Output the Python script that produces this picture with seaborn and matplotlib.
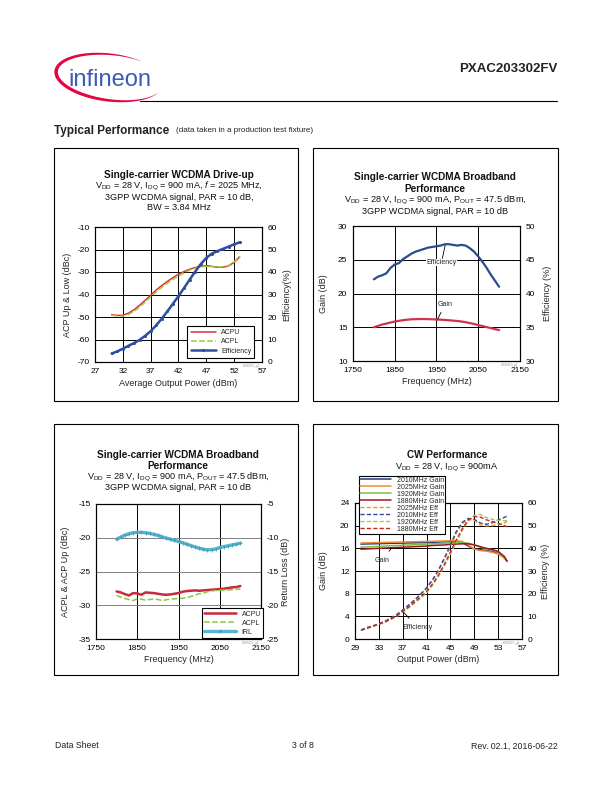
import numpy as np
import matplotlib
matplotlib.use("Agg")
import matplotlib.pyplot as plt
import seaborn as sns
from matplotlib.patches import Rectangle

# --- Drive-up, f = 2025 MHz
pout_drive = [30, 31, 32, 33, 34, 35, 36, 37, 38, 39, 40, 41, 42, 43, 44, 45, 46, 47, 48, 49, 50, 51, 52, 53]
acpu_drive = [-49.0, -49.3, -49.2, -48.3, -46.8, -44.8, -42.6, -40.3, -38.0, -36.0, -34.2, -32.5,
              -31.0, -29.8, -28.8, -28.0, -27.5, -27.2, -27.5, -27.9, -27.9, -27.3, -25.7, -23.3]
acpl_drive = [-49.2, -49.6, -49.6, -48.9, -47.5, -45.6, -43.4, -41.1, -38.8, -36.8, -35.0, -33.3,
              -31.8, -30.4, -29.2, -28.3, -27.7, -27.5, -27.6, -27.8, -27.7, -27.1, -25.4, -23.1]
eff_drive = [3.8, 4.7, 5.9, 7.2, 8.4, 9.8, 11.6, 13.7, 16.3, 19.3, 22.5, 25.9,
             29.3, 32.9, 36.6, 40.2, 43.5, 46.3, 48.2, 49.3, 50.3, 51.3, 52.3, 53.2]

# --- Broadband, Pout = 47.5 dBm
freq_bb = [1800, 1810, 1820, 1830, 1840, 1850, 1860, 1870, 1880, 1890, 1900, 1910, 1920, 1930, 1940, 1950,
           1960, 1970, 1980, 1990, 2000, 2010, 2020, 2030, 2040, 2050, 2060, 2070, 2080, 2090, 2100]
gain_bb = [15.0, 15.2, 15.4, 15.55, 15.7, 15.85, 15.95, 16.05, 16.12, 16.18, 16.2, 16.22, 16.22, 16.2, 16.18, 16.15,
           16.12, 16.08, 16.03, 15.98, 15.92, 15.85, 15.75, 15.62, 15.48, 15.32, 15.18, 15.02, 14.88, 14.72, 14.58]
eff_bb = [42.1, 42.5, 42.7, 43.0, 43.8, 44.3, 44.5, 45.1, 45.5, 45.9, 46.2, 46.4, 46.6, 46.8, 46.9, 47.0,
          47.1, 47.3, 47.3, 47.2, 47.1, 47.2, 47.1, 46.7, 46.2, 45.5, 44.7, 43.8, 42.8, 41.9, 41.0]
acpu_bb = [-27.95, -28.1, -28.35, -28.55, -28.2, -28.25, -28.45, -28.1, -28.15, -28.2, -28.3, -28.4, -28.45, -28.4, -28.3, -28.2,
           -28.0, -27.9, -27.85, -27.8, -27.85, -27.8, -27.75, -27.7, -27.65, -27.6, -27.55, -27.45, -27.35, -27.3, -27.15]
acpl_bb = [-28.55, -28.8, -29.0, -29.15, -29.3, -29.05, -29.1, -29.25, -29.15, -29.1, -29.15, -29.3, -29.2, -29.1, -29.05, -29.0,
           -28.95, -28.85, -28.7, -28.5, -28.3, -28.2, -28.0, -27.9, -27.8, -27.8, -27.75, -27.75, -27.7, -27.65, -27.55]
irl_bb = [-10.2, -9.9, -9.6, -9.4, -9.25, -9.2, -9.2, -9.25, -9.35, -9.5, -9.65, -9.85, -10.05, -10.2, -10.4, -10.55,
          -10.75, -10.95, -11.15, -11.35, -11.55, -11.7, -11.8, -11.75, -11.65, -11.45, -11.3, -11.2, -11.05, -10.95, -10.8]

# --- CW performance
pout_cw = [30, 31, 32, 33, 34, 35, 36, 37, 38, 39, 40, 41, 42, 43, 44, 45, 46, 47, 48, 49, 50, 51, 52, 53, 54, 54.5]
gain_2010 = [16.75, 16.78, 16.8, 16.83, 16.85, 16.88, 16.9, 16.93, 16.95, 16.98, 17.0, 17.03, 17.05,
             17.1, 17.15, 17.2, 17.2, 17.0, 16.4, 15.9, 15.75, 15.65, 15.45, 15.1, 14.4, 13.7]
gain_2025 = [16.95, 16.97, 17.0, 17.02, 17.05, 17.07, 17.1, 17.12, 17.15, 17.17, 17.2, 17.22, 17.25,
             17.28, 17.3, 17.33, 17.35, 17.2, 16.6, 15.85, 15.6, 15.5, 15.3, 15.0, 14.3, 13.7]
gain_1920 = [16.2, 16.25, 16.3, 16.35, 16.4, 16.45, 16.5, 16.55, 16.6, 16.65, 16.7, 16.75, 16.8,
             16.85, 16.9, 16.95, 17.0, 17.0, 16.9, 16.6, 16.2, 15.95, 15.7, 15.35, 14.5, 13.75]
gain_1880 = [15.85, 15.9, 15.95, 16.0, 16.05, 16.1, 16.15, 16.2, 16.25, 16.3, 16.35, 16.4, 16.5,
             16.55, 16.6, 16.7, 16.75, 16.8, 16.8, 16.6, 16.3, 16.0, 15.8, 15.45, 14.6, 13.75]
eff_2025 = [4.0, 5.0, 5.8, 6.7, 7.8, 9.1, 10.7, 12.6, 14.7, 17.0, 19.5, 22.3, 25.8,
            30.0, 35.2, 40.8, 46.8, 51.0, 52.8, 52.3, 50.4, 49.9, 50.0, 50.5, 51.2, 51.8]
eff_2010 = [4.0, 5.0, 5.8, 6.7, 7.8, 9.2, 10.8, 12.8, 15.0, 17.3, 19.8, 22.6, 26.2,
            30.5, 35.8, 41.5, 47.5, 51.5, 53.2, 52.8, 51.2, 50.6, 51.3, 52.5, 53.6, 54.2]
eff_1920 = [3.8, 4.7, 5.5, 6.4, 7.4, 8.6, 10.0, 11.9, 13.8, 15.9, 18.0, 20.4, 23.6,
            27.6, 32.2, 37.4, 42.6, 47.8, 52.2, 54.6, 55.0, 53.6, 52.8, 52.3, 52.2, 52.2]
eff_1880 = [3.8, 4.7, 5.6, 6.5, 7.5, 8.8, 10.2, 12.1, 14.1, 16.3, 18.5, 21.0, 24.3,
            28.3, 33.0, 38.4, 43.7, 48.8, 52.5, 54.0, 53.8, 52.6, 51.8, 51.0, 50.0, 49.5]

W, H = 612, 792
sns.set_theme(style="white")
plt.rcParams["font.family"] = ["Liberation Sans", "DejaVu Sans"]
plt.rcParams["mathtext.fontset"] = "custom"
plt.rcParams["mathtext.rm"] = "Liberation Sans"
plt.rcParams["mathtext.it"] = "Liberation Sans:italic"
plt.rcParams["axes.unicode_minus"] = False

fig = plt.figure(figsize=(6.12, 7.92), dpi=100)
fig.patch.set_facecolor("white")

# page layer in pixel coordinates
page = fig.add_axes([0, 0, 1, 1])
page.set_xlim(0, W)
page.set_ylim(H, 0)
page.axis("off")


def rect(l, t, r, b):
    return [l / W, 1 - b / H, (r - l) / W, (b - t) / H]


# logo
red, blue = "#e3063f", "#3b5cb3"
t = np.radians(np.linspace(58, 336, 200))
s = (t - t[0]) / (t[-1] - t[0])
w = 3.4 * np.sin(np.pi * s) ** 0.9 + 0.2
rot = np.radians(-7)


def ell(a, b):
    x, y = a * np.cos(t), b * np.sin(t)
    return 109 + x * np.cos(rot) - y * np.sin(rot), 77.5 - (x * np.sin(rot) + y * np.cos(rot))


xo, yo = ell(55, 24)
xi, yi = ell(55 - w, 24 - w)
page.fill(np.r_[xo, xi[::-1]], np.r_[yo, yi[::-1]], color=red, lw=0)
page.text(68, 86, "infineon", fontsize=17, color=blue, ha="left", va="baseline")

page.text(557, 69, "PXAC203302FV", fontsize=9.5, fontweight="bold", ha="right", va="center", color="#222222")
page.plot([140, 557], [101, 101], color="black", lw=0.8)
page.text(54, 131, "Typical Performance", fontsize=8.5, fontweight="bold", ha="left", va="center", color="#222222")
page.text(176, 131, "(data taken in a production test fixture)", fontsize=5.8, ha="left", va="center", color="#222222")

for (l, tp, r, b) in [(54, 148, 298, 401), (313, 148, 558, 401), (54, 424, 298, 675), (313, 424, 558, 675)]:
    page.add_patch(Rectangle((l, tp), r - l, b - tp, fill=False, ec="black", lw=0.8))

page.text(55, 746, "Data Sheet", fontsize=6.3, ha="left", va="center", color="#222222")
page.text(303, 746, "3 of 8", fontsize=6.3, ha="center", va="center", color="#222222")
page.text(558, 746, "Rev. 02.1, 2016-06-22", fontsize=6.3, ha="right", va="center", color="#222222")

TFS, SFS, LFS, TKS = 7.2, 6.6, 6.5, 6.0


def titles(cx, lines):
    for y, txt in lines:
        bold = txt.startswith(("Single", "Perf", "CW"))
        page.text(cx, y, txt, fontsize=TFS if bold else SFS, fontweight="bold" if bold else "normal",
                  ha="center", va="center", color="#111111")


def labels(xl, xy, yl, yx, rl, rx, cy, xc):
    page.text(xc, xy, xl, fontsize=LFS, ha="center", va="center")
    page.text(yx, cy, yl, fontsize=LFS, ha="center", va="center", rotation=90)
    page.text(rx, cy, rl, fontsize=LFS, ha="center", va="center", rotation=90)


def setup(ax, ax2, xlim, xt, ylim, yt, y2lim, y2t, hcol="black"):
    ax.set_xlim(xlim)
    ax.set_xticks(xt)
    ax.set_ylim(ylim)
    ax.set_yticks(yt)
    ax2.set_ylim(y2lim)
    ax2.set_yticks(y2t)
    ax.grid(True, axis="x", color="black", lw=0.7)
    ax.grid(True, axis="y", color=hcol, lw=0.7)
    ax2.grid(False)
    for a in (ax, ax2):
        a.set_xlabel("")
        a.set_ylabel("")
        a.tick_params(length=0, labelsize=TKS, pad=4, colors="black")
        for sp in a.spines.values():
            sp.set_color("black")
            sp.set_linewidth(0.8)
    ax.set_facecolor("white")


def legend_box(ax, handles, names, **kw):
    leg = ax.legend(handles, names, fontsize=5, frameon=True, fancybox=False, edgecolor="black",
                    framealpha=1, borderaxespad=0, **kw)
    leg.get_frame().set_linewidth(0.8)
    leg.set_zorder(10)
    return leg


def tag(ax, txt):
    ax.text(0.99, -0.015, txt, transform=ax.transAxes, fontsize=2, color="#888888", ha="right", va="top")


# ---------- chart 1
ax1 = fig.add_axes(rect(95, 227, 262, 362))
ax1b = ax1.twinx()
sns.lineplot(x=pout_drive, y=acpu_drive, ax=ax1, color="#d8323f", lw=1.1)
sns.lineplot(x=pout_drive, y=acpl_drive, ax=ax1, color="#9ccc3c", lw=1.1, linestyle="--")
sns.lineplot(x=pout_drive, y=eff_drive, ax=ax1b, color="#2d4e9c", lw=1.8, marker="o", markersize=2.2,
             markeredgewidth=0)
setup(ax1, ax1b, (27, 57), [27, 32, 37, 42, 47, 52, 57], (-70, -10), [-70, -60, -50, -40, -30, -20, -10],
      (0, 60), [0, 10, 20, 30, 40, 50, 60])
legend_box(ax1b, [ax1.lines[0], ax1.lines[1], ax1b.lines[0]], ["ACPU", "ACPL", "Efficiency"],
           loc="lower right", bbox_to_anchor=(0.955, 0.03), handlelength=3.6, borderpad=0.45, labelspacing=0.35)
tag(ax1, "c203302fv_g1")
titles(179, [(175, "Single-carrier WCDMA Drive-up"),
             (186, r"V$_\mathrm{DD}$ = 28 V, I$_\mathrm{DQ}$ = 900 mA, $\mathit{f}$ = 2025 MHz,"),
             (197, "3GPP WCDMA signal, PAR = 10 dB,"),
             (208, "BW = 3.84 MHz")])
labels("Average Output Power (dBm)", 383, "ACP Up & Low (dBc)", 68, "Efficiency(%)", 287, 294.5, 178.5)

# ---------- chart 2
ax2 = fig.add_axes(rect(353, 226, 520, 361))
ax2b = ax2.twinx()
sns.lineplot(x=freq_bb, y=gain_bb, ax=ax2, color="#cc3548", lw=1.6)
sns.lineplot(x=freq_bb, y=eff_bb, ax=ax2b, color="#2a4b8d", lw=1.6)
setup(ax2, ax2b, (1750, 2150), [1750, 1850, 1950, 2050, 2150], (10, 30), [10, 15, 20, 25, 30],
      (30, 50), [30, 35, 40, 45, 50])
ax2.annotate("Efficiency", xy=(1971, 27.2), xytext=(1962, 24.6), fontsize=5, ha="center", va="center",
             bbox=dict(fc="white", ec="none", pad=0.3),
             arrowprops=dict(arrowstyle="-", lw=0.6, color="black", shrinkA=0, shrinkB=0))
ax2.annotate("Gain", xy=(1953, 16.2), xytext=(1970, 18.4), fontsize=5, ha="center", va="center",
             arrowprops=dict(arrowstyle="-", lw=0.6, color="black", shrinkA=1, shrinkB=0))
tag(ax2, "c203302fv_g2")
titles(435, [(177, "Single-carrier WCDMA Broadband"),
             (189, "Performance"),
             (200, r"V$_\mathrm{DD}$ = 28 V, I$_\mathrm{DQ}$ = 900 mA, P$_\mathrm{OUT}$ = 47.5 dBm,"),
             (211, "3GPP WCDMA signal, PAR = 10 dB")])
labels("Frequency (MHz)", 381, "Gain (dB)", 323, "Efficiency (%)", 547, 293.5, 436.5)

# ---------- chart 3
ax3 = fig.add_axes(rect(96, 504, 261, 639))
ax3b = ax3.twinx()
sns.lineplot(x=freq_bb, y=acpu_bb, ax=ax3, color="#c9283d", lw=1.8)
sns.lineplot(x=freq_bb, y=acpl_bb, ax=ax3, color="#8dc63f", lw=1.1, linestyle="--")
sns.lineplot(x=freq_bb, y=irl_bb, ax=ax3b, color="#5ab6cf", lw=2.4, marker="+", markersize=3,
             markeredgewidth=0.6, markeredgecolor="#3f9fbd")
setup(ax3, ax3b, (1750, 2150), [1750, 1850, 1950, 2050, 2150], (-35, -15), [-35, -30, -25, -20, -15],
      (-25, -5), [-25, -20, -15, -10, -5], hcol="#808080")
legend_box(ax3b, [ax3.lines[0], ax3.lines[1], ax3b.lines[0]], ["ACPU", "ACPL", "IRL"],
           loc="lower right", bbox_to_anchor=(1.015, 0.005), handlelength=4.6, borderpad=0.35, labelspacing=0.3)
tag(ax3, "c203302fv_g3")
titles(178, [(455, "Single-carrier WCDMA Broadband"),
             (466, "Performance"),
             (477, r"V$_\mathrm{DD}$ = 28 V, I$_\mathrm{DQ}$ = 900 mA, P$_\mathrm{OUT}$ = 47.5 dBm,"),
             (488, "3GPP WCDMA signal, PAR = 10 dB")])
labels("Frequency (MHz)", 660, "ACPL & ACP Up (dBc)", 65, "Return Loss (dB)", 285, 571.5, 178.5)

# ---------- chart 4
ax4 = fig.add_axes(rect(355, 503, 522, 639))
ax4b = ax4.twinx()
gains = [(gain_2010, "#1f3c7d", "2010MHz Gain"), (gain_2025, "#f28a3a", "2025MHz Gain"),
         (gain_1920, "#79c143", "1920MHz Gain"), (gain_1880, "#a3161d", "1880MHz Gain")]
effs = [(eff_2025, "#f7941d", "2025MHz Eff"), (eff_2010, "#2e4b9b", "2010MHz Eff"),
        (eff_1920, "#9bcc62", "1920MHz Eff"), (eff_1880, "#c8262d", "1880MHz Eff")]
for vals, col, name in gains:
    sns.lineplot(x=pout_cw, y=vals, ax=ax4, color=col, lw=1.1)
for vals, col, name in effs:
    sns.lineplot(x=pout_cw, y=vals, ax=ax4b, color=col, lw=1.0, linestyle=(0, (3, 1.6)))
setup(ax4, ax4b, (29, 57), [29, 33, 37, 41, 45, 49, 53, 57], (0, 24), [0, 4, 8, 12, 16, 20, 24],
      (0, 60), [0, 10, 20, 30, 40, 50, 60])
ax4.annotate("Gain", xy=(35.1, 16.0), xytext=(33.5, 13.9), fontsize=5, ha="center", va="center",
             arrowprops=dict(arrowstyle="-", lw=0.6, color="black", shrinkA=2, shrinkB=0))
ax4.annotate("Efficiency", xy=(36.9, 5.0), xytext=(39.45, 2.1), fontsize=5, ha="center", va="center",
             arrowprops=dict(arrowstyle="-", lw=0.6, color="black", shrinkA=2, shrinkB=0))
legend_box(ax4b, list(ax4.lines) + list(ax4b.lines), [g[2] for g in gains] + [e[2] for e in effs],
           loc="upper left", bbox_to_anchor=(0.024, 1.2), handlelength=4.5, borderpad=0.15,
           labelspacing=0.0, handletextpad=0.8)
tag(ax4, "c203302fv_g4")
titles(447, [(455, "CW Performance"),
             (467, r"V$_\mathrm{DD}$ = 28 V, I$_\mathrm{DQ}$ = 900mA")])
labels("Output Power (dBm)", 660, "Gain (dB)", 323, "Efficiency (%)", 545, 571, 438.5)

fig.savefig("out.png", dpi=100, facecolor="white")
